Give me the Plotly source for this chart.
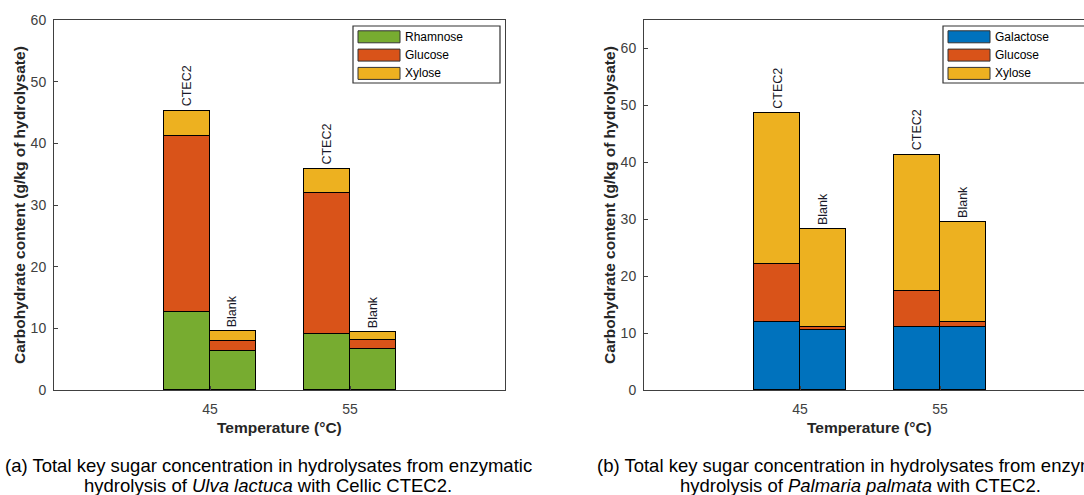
import plotly.graph_objects as go

# ---------------------------------------------------------------- data
temperatures = [45, 55]
treatments = ["CTEC2", "Blank"]

# (a) Ulva lactuca, g/kg of hydrolysate
ulva_sugars = ["Rhamnose", "Glucose", "Xylose"]
ulva_rhamnose_ctec2 = [12.7, 9.05]
ulva_glucose_ctec2 = [28.5, 22.85]
ulva_xylose_ctec2 = [4.1, 3.95]
ulva_rhamnose_blank = [6.4, 6.7]
ulva_glucose_blank = [1.5, 1.45]
ulva_xylose_blank = [1.6, 1.2]

# (b) Palmaria palmata, g/kg of hydrolysate
palmaria_sugars = ["Galactose", "Glucose", "Xylose"]
palmaria_galactose_ctec2 = [12.0, 11.0]
palmaria_glucose_ctec2 = [10.2, 6.4]
palmaria_xylose_ctec2 = [26.45, 23.95]
palmaria_galactose_blank = [10.5, 11.05]
palmaria_glucose_blank = [0.6, 0.85]
palmaria_xylose_blank = [17.15, 17.6]

ulva = {
    "CTEC2": [ulva_rhamnose_ctec2, ulva_glucose_ctec2, ulva_xylose_ctec2],
    "Blank": [ulva_rhamnose_blank, ulva_glucose_blank, ulva_xylose_blank],
}
palmaria = {
    "CTEC2": [palmaria_galactose_ctec2, palmaria_glucose_ctec2, palmaria_xylose_ctec2],
    "Blank": [palmaria_galactose_blank, palmaria_glucose_blank, palmaria_xylose_blank],
}

# ---------------------------------------------------------------- style
W, H = 1084, 495
FONT = "Liberation Sans, Arial, Helvetica, sans-serif"
TXT = "#262626"
AX = "#404040"
BLUE, ORANGE, YELLOW, GREEN = "#0072BD", "#D95319", "#EDB120", "#77AC30"
ulva_colors = [GREEN, ORANGE, YELLOW]
palmaria_colors = [BLUE, ORANGE, YELLOW]

BAR_W = 3.264                       # width of one bar in x units
OFFSETS = {"CTEC2": -BAR_W / 2, "Blank": BAR_W / 2}


def px(xp):
    return xp / W


def py(yp):
    return 1 - yp / H


fig = go.Figure()
annotations = []
shapes = []


def add_panel(series, names, colors, xa, ya):
    for treat in treatments:
        xs = [t + OFFSETS[treat] for t in temperatures]
        for vals, name, col in zip(series[treat], names, colors):
            fig.add_trace(go.Bar(
                x=xs, y=vals, width=BAR_W, name=name,
                marker=dict(color=col, line=dict(color="#000000", width=1)),
                xaxis=xa, yaxis=ya, showlegend=False,
            ))
        totals = [sum(v) for v in zip(*series[treat])]
        for x, tot in zip(xs, totals):
            annotations.append(dict(
                x=x, y=tot, xref=xa, yref=ya, text=treat, textangle=-90,
                showarrow=False, xanchor="center", yanchor="bottom", yshift=2,
                font=dict(family=FONT, size=12.5, color="#1a1a2a"),
            ))


def add_legend(names, colors, left, top):
    box_w, box_h = 147, 57
    shapes.append(dict(type="rect", xref="paper", yref="paper",
                       x0=px(left), x1=px(left + box_w), y0=py(top), y1=py(top + box_h),
                       line=dict(color="#333333", width=1.2), fillcolor="white", layer="above"))
    for i, (name, col) in enumerate(zip(names, colors)):
        cy = top + 10.8 + i * 18.3
        shapes.append(dict(type="rect", xref="paper", yref="paper",
                           x0=px(left + 5), x1=px(left + 47), y0=py(cy - 6), y1=py(cy + 6),
                           line=dict(color="#333333", width=1), fillcolor=col, layer="above"))
        annotations.append(dict(x=px(left + 50), y=py(cy), xref="paper", yref="paper",
                                text=name, showarrow=False, xanchor="left", yanchor="middle",
                                font=dict(family=FONT, size=12, color="#000000")))


add_panel(ulva, ulva_sugars, ulva_colors, "x", "y")
add_panel(palmaria, palmaria_sugars, palmaria_colors, "x2", "y2")
add_legend(ulva_sugars, ulva_colors, 353, 26)
add_legend(palmaria_sugars, palmaria_colors, 943, 26)

# axis titles
for cx in (px(279.5), px(869.5)):
    annotations.append(dict(x=cx, y=py(427), xref="paper", yref="paper",
                            text="<b>Temperature (°C)</b>", showarrow=False,
                            xanchor="center", yanchor="middle",
                            font=dict(family=FONT, size=15.5, color=TXT)))
for cx in (px(19), px(609)):
    annotations.append(dict(x=cx, y=py(205), xref="paper", yref="paper",
                            text="<b>Carbohydrate content (g/kg of hydrolysate)</b>",
                            textangle=-90, showarrow=False,
                            xanchor="center", yanchor="middle",
                            font=dict(family=FONT, size=15.5, color=TXT)))

# captions
captions = [
    (268, "(a) Total key sugar concentration in hydrolysates from enzymatic",
     "hydrolysis of <i>Ulva lactuca</i> with Cellic CTEC2."),
    (860, "(b) Total key sugar concentration in hydrolysates from enzymatic",
     "hydrolysis of <i>Palmaria palmata</i> with CTEC2."),
]
for cx, l1, l2 in captions:
    for yy, line in ((465, l1), (485, l2)):
        annotations.append(dict(x=px(cx), y=py(yy), xref="paper", yref="paper",
                                text=line, showarrow=False, xanchor="center", yanchor="middle",
                                font=dict(family=FONT, size=18.5, color="#000000")))

xcommon = dict(tickmode="array", tickvals=temperatures, ticktext=[str(t) for t in temperatures],
               ticks="inside", ticklen=4, tickcolor=AX, showline=True, linecolor=AX, linewidth=1,
               mirror=True, showgrid=False, zeroline=False, ticklabelstandoff=6,
               automargin=False, tickfont=dict(family=FONT, size=14, color=AX))
ycommon = dict(ticks="inside", ticklen=4, tickcolor=AX, showline=True, linecolor=AX, linewidth=1,
               showgrid=False, zeroline=False, tickmode="linear", tick0=0, dtick=10,
               ticklabelstandoff=4, automargin=False, tickfont=dict(family=FONT, size=14, color=AX))

ydom = [py(390), py(20)]
fig.update_layout(
    width=W, height=H, margin=dict(l=0, r=0, t=0, b=0, pad=0, autoexpand=False),
    paper_bgcolor="white", plot_bgcolor="white",
    barmode="stack", bargap=0,
    font=dict(family=FONT, color=TXT),
    xaxis=dict(domain=[px(54), px(505)], range=[45 - 156 / 14, 55 + 155 / 14], **xcommon),
    yaxis=dict(domain=ydom, range=[0, 60], mirror=True, anchor="x", **ycommon),
    xaxis2=dict(domain=[px(644), 1.0], range=[45 - 156 / 14, 45 + 284 / 14], anchor="y2", **xcommon),
    yaxis2=dict(domain=ydom, range=[0, 65], mirror=False, anchor="x2", **ycommon),
    annotations=annotations,
    shapes=shapes,
)

fig.write_html("out.html")
